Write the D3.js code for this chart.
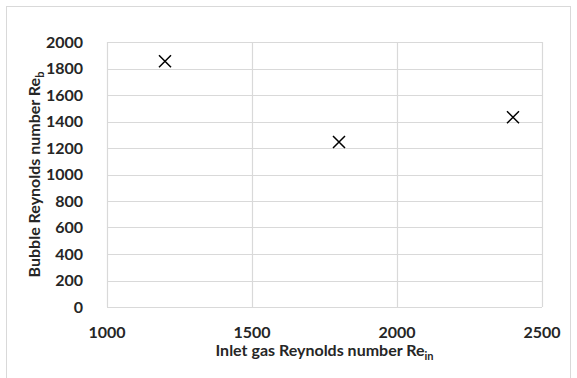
<!DOCTYPE html>
<html>
<head>
<meta charset="utf-8">
<script src="https://cdn.jsdelivr.net/npm/d3@7"></script>
<style>
  body { margin: 0; background: #fff; }
  text { font-family: Lato, "Open Sans", sans-serif; font-weight: bold; fill: #262626; }
</style>
</head>
<body>
<svg id="chart" width="577" height="378"></svg>
<script>
// data
const inletRe = [1200, 1800, 2400];
const bubbleRe = [1855, 1245, 1432];
const xTicks = [1000, 1500, 2000, 2500];
const yTicks = [0, 200, 400, 600, 800, 1000, 1200, 1400, 1600, 1800, 2000];

const svg = d3.select("#chart");
const margin = { left: 107, right: 35, top: 42, bottom: 71 };
const width = 577, height = 378;

// outer chart frame
svg.append("rect")
  .attr("x", 6.5).attr("y", 6.5)
  .attr("width", 564).attr("height", 372)
  .attr("fill", "none")
  .attr("stroke", "#d9d9d9");

const x = d3.scaleLinear().domain([1000, 2500]).range([margin.left, width - margin.right]);
const y = d3.scaleLinear().domain([0, 2000]).range([height - margin.bottom, margin.top]);

/* ------- GRID -------*/
svg.append("g")
  .selectAll("line.h")
  .data(yTicks)
  .enter()
  .append("line")
  .attr("class", "h")
  .attr("x1", x(1000)).attr("x2", x(2500))
  .attr("y1", d => Math.round(y(d)) + 0.5)
  .attr("y2", d => Math.round(y(d)) + 0.5)
  .attr("stroke", "#d9d9d9")
  .attr("stroke-width", 1.2);

svg.append("g")
  .selectAll("line.v")
  .data(xTicks)
  .enter()
  .append("line")
  .attr("class", "v")
  .attr("y1", y(0)).attr("y2", y(2000))
  .attr("x1", d => Math.round(x(d)) + 0.5)
  .attr("x2", d => Math.round(x(d)) + 0.5)
  .attr("stroke", "#d9d9d9")
  .attr("stroke-width", 1.2);

/* ------- TICK LABELS -------*/
svg.append("g")
  .selectAll("text")
  .data(yTicks)
  .enter()
  .append("text")
  .attr("x", x(1000) - 24)
  .attr("y", d => y(d))
  .attr("dy", "0.35em")
  .attr("text-anchor", "end")
  .attr("font-size", "16px")
  .text(d => d);

svg.append("g")
  .selectAll("text")
  .data(xTicks)
  .enter()
  .append("text")
  .attr("x", d => x(d))
  .attr("y", y(0) + 31)
  .attr("text-anchor", "middle")
  .attr("font-size", "16px")
  .text(d => d);

/* ------- AXIS TITLES -------*/
const xTitle = svg.append("text")
  .attr("x", (x(1000) + x(2500)) / 2)
  .attr("y", 356)
  .attr("text-anchor", "middle")
  .attr("font-size", "16px");
xTitle.append("tspan").text("Inlet gas Reynolds number Re");
xTitle.append("tspan").attr("font-size", "11px").attr("dy", 4).text("in");

const yTitle = svg.append("text")
  .attr("transform", `translate(40, ${(y(0) + y(2000)) / 2}) rotate(-90)`)
  .attr("text-anchor", "middle")
  .attr("font-size", "16px");
yTitle.append("tspan").text("Bubble Reynolds number Re");
yTitle.append("tspan").attr("font-size", "11px").attr("dy", 4).text("b");

/* ------- MARKERS -------*/
const s = 6;
const pts = inletRe.map((v, i) => ({ x: v, y: bubbleRe[i] }));
svg.append("g")
  .selectAll("path")
  .data(pts)
  .enter()
  .append("path")
  .attr("d", d => {
    const cx = x(d.x), cy = y(d.y);
    return `M${cx - s},${cy - s}L${cx + s},${cy + s}M${cx - s},${cy + s}L${cx + s},${cy - s}`;
  })
  .attr("stroke", "#000")
  .attr("stroke-width", 1.5)
  .attr("fill", "none");
</script>
</body>
</html>
